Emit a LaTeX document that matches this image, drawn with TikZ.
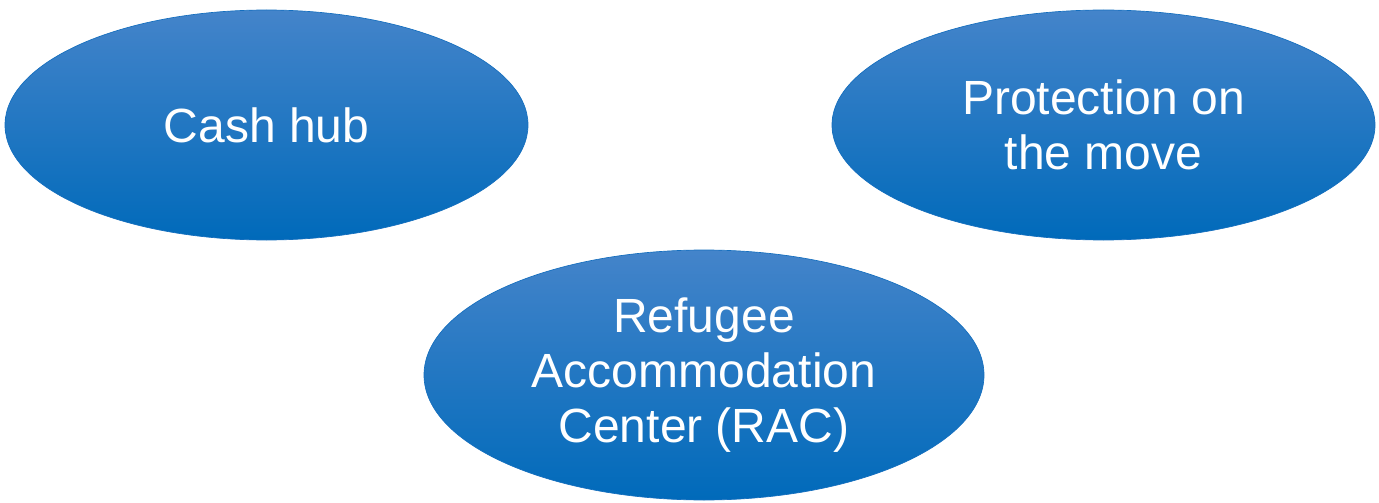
\documentclass[tikz,border=0pt]{standalone}
\usepackage{fontspec}
\setmainfont{Liberation Sans}
\usetikzlibrary{shapes.geometric}

\definecolor{blobtop}{RGB}{68,132,202}
\definecolor{blobmid}{RGB}{16,118,198}
\definecolor{blobbot}{RGB}{0,106,186}
\definecolor{blobline}{RGB}{20,110,190}

\tikzset{every picture/.style={line width=0.75pt}}
\tikzset{blob/.style={ellipse, inner sep=0pt, draw=blobline, line width=0.5pt,
    top color=blobtop, middle color=blobmid, bottom color=blobbot,
    text=white, align=center, font=\fontsize{36}{41}\selectfont}}

\begin{document}
\begin{tikzpicture}[x=0.75pt,y=0.75pt,yscale=-1,xscale=1]
\useasboundingbox (0,0) rectangle (1379,503);

% Ellipse Node
\node [blob, minimum width=392.25pt, minimum height=172.5pt] (cash) at (266.5,125) {Cash hub};
% Ellipse Node
\node [blob, minimum width=407.25pt, minimum height=172.5pt] (move) at (1103.5,125) {Protection on\\the move};
% Ellipse Node
\node [blob, minimum width=420pt, minimum height=187.5pt] (rac) at (704,375) {Refugee\\Accommodation\\Center (RAC)};

\end{tikzpicture}
\end{document}
